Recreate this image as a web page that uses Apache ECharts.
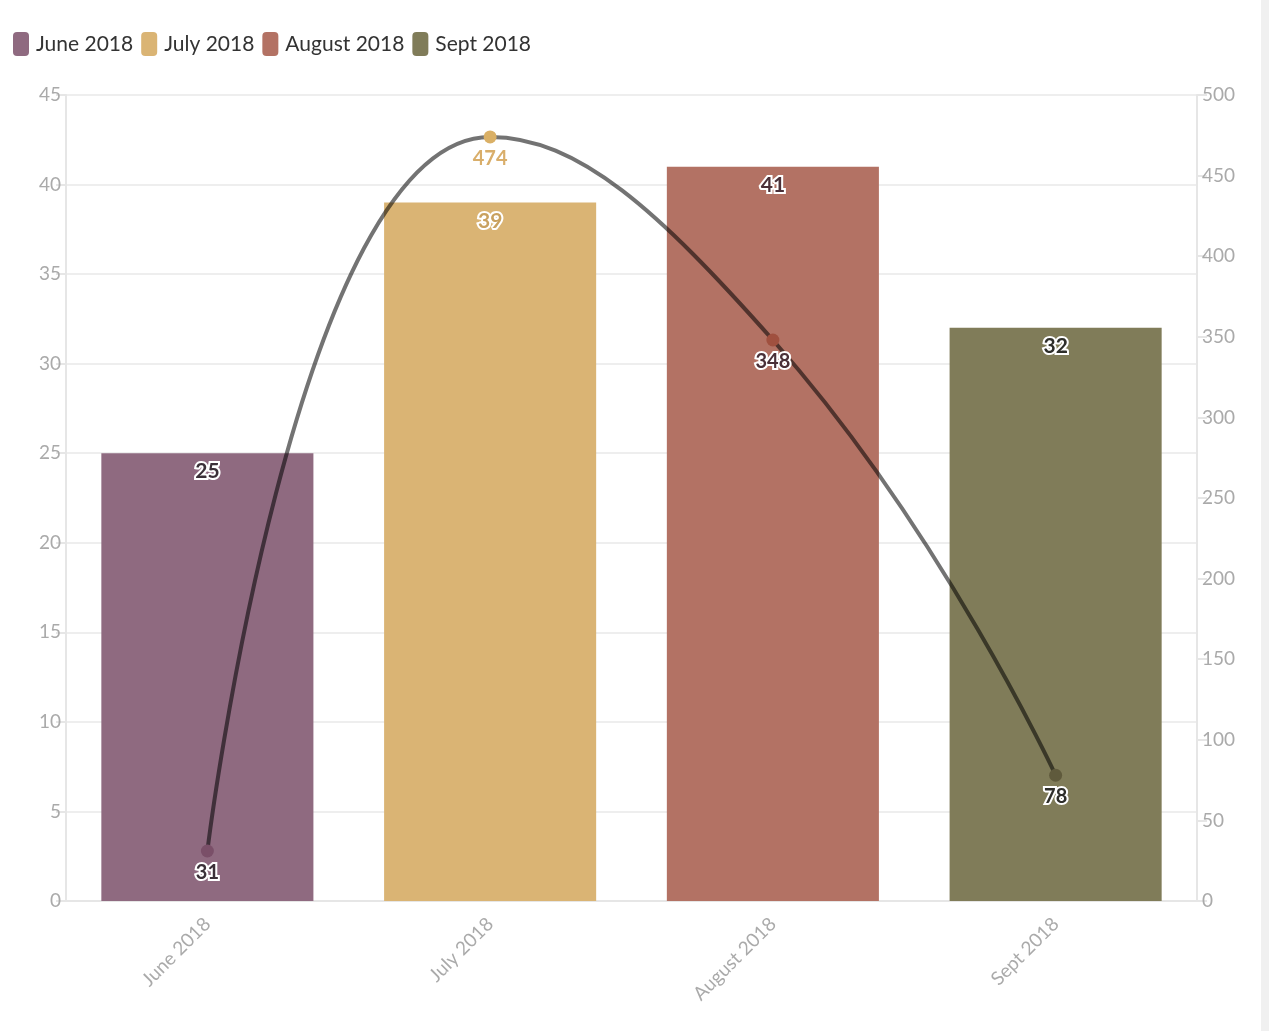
<!DOCTYPE html>
<html><head><meta charset="utf-8">
<script src="https://cdn.jsdelivr.net/npm/echarts@6/dist/echarts.min.js"></script>
<style>html,body{margin:0;padding:0;background:#fff}#c{width:1269px;height:1031px}</style>
</head><body><div id="c"></div>
<script>
var categories = ['June 2018', 'July 2018', 'August 2018', 'Sept 2018'];
var barValues = [25, 39, 41, 32];
var lineValues = [31, 474, 348, 78];
var leftTicks = {min: 0, max: 45, interval: 5};
var rightTicks = {min: 0, max: 500, interval: 50};

var barColors = ['#8f6a80', '#dab474', '#b37264', '#807c59'];
var pointColors = ['#7a4f68', '#dab066', '#a0503f', '#5f5a3c'];
var barLabelColors = ['#3b3038', '#c9a15f', '#4a3038', '#2e2e2a'];
var lineLabelColors = ['#3b3038', '#d9ae6a', '#4a3038', '#2e2e2a'];

var font = 'Lato, "Open Sans", sans-serif';
var chart = echarts.init(document.getElementById('c'));

var series = categories.map(function (name, i) {
  return {
    name: name,
    type: 'bar',
    stack: 'bars',
    barWidth: '75%',
    data: categories.map(function (c, j) { return j === i ? barValues[i] : '-'; }),
    itemStyle: {color: barColors[i]},
    label: {
      show: true, position: 'insideTop', distance: 8,
      fontFamily: font, fontWeight: 'bold', fontSize: 21,
      color: barLabelColors[i], textBorderColor: '#fff', textBorderWidth: 4
    }
  };
});

series.push({
  name: 'line',
  type: 'line',
  yAxisIndex: 1,
  smooth: 0.5,
  symbol: 'circle',
  symbolSize: 13,
  showAllSymbol: true,
  z: 5,
  lineStyle: {color: 'rgba(0,0,0,0.55)', width: 4},
  itemStyle: {opacity: 1},
  data: lineValues.map(function (v, i) {
    return {
      value: v,
      symbol: 'circle',
      symbolSize: 13,
      itemStyle: {color: pointColors[i]},
      label: i === 1 ? {color: lineLabelColors[i], textBorderWidth: 0} : {color: lineLabelColors[i]}
    };
  }),
  label: {
    show: true, position: 'bottom', distance: 5,
    fontFamily: font, fontWeight: 'bold', fontSize: 20,
    textBorderColor: '#fff', textBorderWidth: 4
  }
});

chart.setOption({
  animation: false,
  textStyle: {fontFamily: font},
  legend: {
    data: categories,
    left: 8, top: 27,
    icon: 'roundRect',
    itemWidth: 16, itemHeight: 24, itemGap: 8,
    textStyle: {fontFamily: font, fontSize: 21, color: '#333', padding: [0, 0, 0, 2]}
  },
  grid: {left: 66, right: 72, top: 95, bottom: 130},
  xAxis: {
    type: 'category',
    data: categories,
    axisLine: {lineStyle: {color: '#e6e6e6', width: 2}},
    axisTick: {alignWithLabel: true, length: 18, lineStyle: {color: '#e6e6e6', width: 2}},
    axisLabel: {rotate: 45, fontFamily: font, fontSize: 19, color: '#aaa', margin: 20}
  },
  yAxis: [{
    type: 'value', min: leftTicks.min, max: leftTicks.max, interval: leftTicks.interval,
    axisLine: {show: true, lineStyle: {color: '#e6e6e6', width: 2}},
    axisTick: {show: true, length: 10, lineStyle: {color: '#e6e6e6', width: 2}},
    splitLine: {show: true, lineStyle: {color: '#eeeeee', width: 2}},
    axisLabel: {fontFamily: font, fontSize: 19, color: '#aaa', margin: 5}
  }, {
    type: 'value', min: rightTicks.min, max: rightTicks.max, interval: rightTicks.interval,
    axisLine: {show: true, lineStyle: {color: '#e6e6e6', width: 2}},
    axisTick: {show: true, length: 10, lineStyle: {color: '#e6e6e6', width: 2}},
    splitLine: {show: false},
    axisLabel: {fontFamily: font, fontSize: 19, color: '#aaa', margin: 5}
  }],
  graphic: [{
    type: 'rect', right: 0, top: 0, shape: {width: 8, height: 1031},
    style: {fill: '#f0f0f0'}, silent: true
  }],
  series: series
});
</script></body></html>
